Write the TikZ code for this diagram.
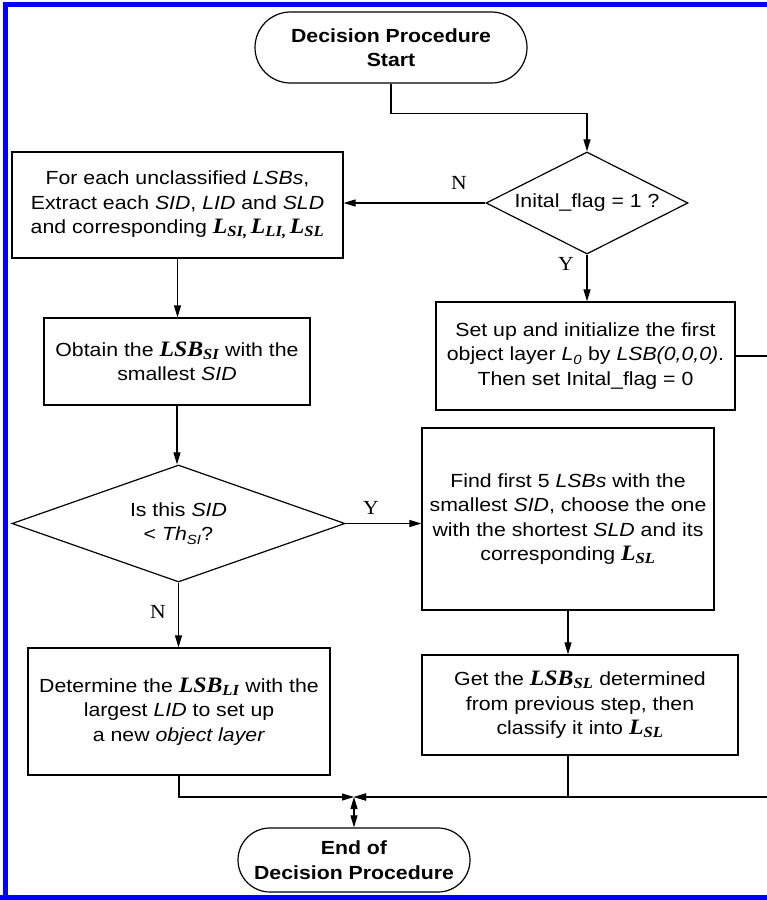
\documentclass[tikz,border=0pt]{standalone}
\usepackage{fontspec}
\setmainfont{Liberation Sans}[FakeStretch=1.12]
\newfontfamily\timesfont{Liberation Serif}[FakeStretch=1.08]
\usetikzlibrary{shapes.geometric,shapes.misc,arrows.meta}
\newcommand{\bodyfont}{\fontsize{19}{24.5}\selectfont}
\newcommand{\bsym}[2]{{\timesfont\bfseries\itshape\fontsize{22}{24.5}\selectfont #1\textsubscript{#2}}}

\begin{document}
\begin{tikzpicture}[x=1pt, y=-1pt, >={Triangle[length=12pt,width=7pt]},
  proc/.style={draw, line width=1.2pt, align=center, inner sep=0pt, font=\bodyfont},
  term/.style={proc, rounded rectangle},
  decide/.style={proc, diamond},
  flow/.style={->, line width=1.1pt},
  yn/.style={font=\timesfont\fontsize{20}{20}\selectfont}]
  \clip (0,0) rectangle (767,900);
  % frame
  \draw[blue, line width=5.5pt] (5.5,905) -- (5.5,4.5) -- (800,4.5);
  \draw[blue, line width=5.5pt] (0,897.5) -- (800,897.5);
  % terminals
  \node[term, minimum width=272pt, minimum height=71pt] (start) at (391,47.5)
    {\textbf{Decision Procedure}\\\textbf{Start}};
  \node[term, minimum width=232pt, minimum height=64pt] (end) at (354,860)
    {\textbf{End of}\\\textbf{Decision Procedure}};
  % decisions
  \node[decide, aspect=2, minimum width=202pt, minimum height=102pt] (flag) at (587,203)
    {Inital\_flag = 1 ?};
  \node[decide, aspect=2.8, minimum width=333pt, minimum height=117pt] (thresh) at (178.5,523.5)
    {Is this \textit{SID}\\ {<} \textit{Th}\textsubscript{\textit{SI}}?};
  % process boxes
  \node[proc, minimum width=331pt, minimum height=106pt] (extract) at (177.5,205)
    {For each unclassified \textit{LSBs},\\ Extract each \textit{SID}, \textit{LID} and \textit{SLD}\\
     and corresponding \bsym{L}{SI,}\,\bsym{L}{LI,}\,\bsym{L}{SL}};
  \node[proc, minimum width=299pt, minimum height=108pt] (init) at (585.5,356)
    {Set up and initialize the first\\ object layer \textit{L}\textsubscript{\textit{0}} by \textit{LSB(0,0,0)}.\\
     Then set Inital\_flag = 0};
  \node[proc, minimum width=266pt, minimum height=87pt] (obtain) at (177,361.5)
    {Obtain the \bsym{LSB}{SI} with the\\ smallest \textit{SID}};
  \node[proc, minimum width=292pt, minimum height=182pt] (find) at (568,519)
    {Find first 5 \textit{LSBs} with the\\ smallest \textit{SID}, choose the one\\
     with the shortest \textit{SLD} and its\\ corresponding \bsym{L}{SL}};
  \node[proc, minimum width=302pt, minimum height=127pt] (newlayer) at (179,711.5)
    {Determine the \bsym{LSB}{LI} with the\\ largest \textit{LID} to set up\\ a new \textit{object layer}};
  \node[proc, minimum width=316pt, minimum height=100pt] (classify) at (580,705)
    {Get the \bsym{LSB}{SL} determined\\ from previous step, then\\ classify it into \bsym{L}{SL}};
  \coordinate (join) at (354,797);
  % Y / N labels
  \node[yn] (flagN) at (459,183) {N};
  \node[yn] (flagY) at (566,264) {Y};
  \node[yn] (threshY) at (371,508) {Y};
  \node[yn] (threshN) at (158,612) {N};
  % connectors
  \draw[flow] (start.south) -- ++(0,30) -| (flag.north);
  \draw[flow] (flag.west) -- (flag.west -| extract.east);
  \draw[flow] (flag.south) -- (flag.south |- init.north);
  \draw[flow] (extract.south) -- (extract.south |- obtain.north);
  \draw[flow] (obtain.south) -- (obtain.south |- thresh.north);
  \draw[flow] (thresh.east) -- (thresh.east -| find.west);
  \draw[flow] (thresh.south) -- (thresh.south |- newlayer.north);
  \draw[flow] (find.south) -- (find.south |- classify.north);
  \draw[flow] (newlayer.south) |- (join);
  \draw[flow] (find.south |- classify.south) |- (join);
  \draw[flow] (init.east) -- ++(50,0) |- (join);
  \draw[flow, <->] (join) -- (end.north);
\end{tikzpicture}
\end{document}
